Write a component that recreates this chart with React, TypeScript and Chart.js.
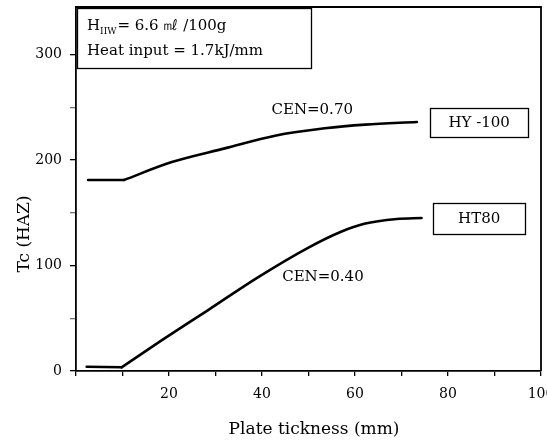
import React, { useEffect, useRef } from 'react';
import { Chart, registerables } from 'chart.js';

Chart.register(...registerables);

// ---- data ----
const hy100X = [2.6, 10.3, 20.6, 32.0, 42.8, 53.5, 62.2, 73.3];
const hy100Y = [181, 181, 198, 211, 223, 230, 233.5, 236];
const ht80X = [2.3, 9.8, 18.4, 28.5, 39.2, 50, 57, 62, 69, 74.3];
const ht80Y = [4, 3.5, 29, 58, 89, 117, 132, 139.5, 144, 145];
const xTickLabels = [20, 40, 60, 80, 100];
const yTickLabels = [0, 100, 200, 300];
const seriesNames = ['HY -100', 'HT80'];
const cenLabels = ['CEN=0.70', 'CEN=0.40'];
const xTitle = 'Plate tickness (mm)';
const yTitle = 'Tc (HAZ)';
const infoLine1Main = 'H';
const infoLine1Sub = 'IIW';
const infoLine1Rest = '= 6.6 ㎖ /100g';
const infoLine2 = 'Heat input = 1.7kJ/mm';

const FONT = '"DejaVu Serif", "Liberation Serif", serif';

// index of the sharp corner where the flat part ends and the curve starts
function kinkIndex(ys: number[]) {
  for (let i = 1; i < ys.length; i++) {
    if (Math.abs(ys[i] - ys[0]) > 2) return i - 1;
  }
  return 0;
}

function lineDatasets(name: string, xs: number[], ys: number[]) {
  const k = kinkIndex(ys);
  const pts = xs.map((x, i) => ({ x, y: ys[i] }));
  const base = {
    borderColor: '#000',
    borderWidth: 2.6,
    pointRadius: 0,
    fill: false,
    cubicInterpolationMode: 'monotone' as const,
    borderCapStyle: 'round' as const,
    borderJoinStyle: 'round' as const,
  };
  return [
    { ...base, label: name + ' flat', data: pts.slice(0, k + 1) },
    { ...base, label: name, data: pts.slice(k) },
  ];
}

const decorPlugin = {
  id: 'decor',
  afterDraw(chart: any) {
    const { ctx, chartArea: ca, scales } = chart;
    const xs = scales.x;
    const ys = scales.y;
    ctx.save();
    ctx.strokeStyle = '#000';
    ctx.fillStyle = '#000';

    // top & right frame
    ctx.lineWidth = 1.8;
    ctx.beginPath();
    ctx.moveTo(ca.left, ca.top);
    ctx.lineTo(ca.right, ca.top);
    ctx.lineTo(ca.right, ca.bottom);
    ctx.stroke();

    // info box
    ctx.lineWidth = 1.3;
    ctx.strokeRect(ca.left + 1.5, ca.top + 1.5, 234, 60);
    ctx.textAlign = 'left';
    ctx.textBaseline = 'alphabetic';
    ctx.font = `15px ${FONT}`;
    let tx = ca.left + 11;
    ctx.fillText(infoLine1Main, tx, ca.top + 23);
    tx += ctx.measureText(infoLine1Main).width;
    ctx.font = `9px ${FONT}`;
    ctx.fillText(infoLine1Sub, tx, ca.top + 27);
    tx += ctx.measureText(infoLine1Sub).width + 1;
    ctx.font = `15px ${FONT}`;
    ctx.fillText(infoLine1Rest, tx, ca.top + 23);
    ctx.fillText(infoLine2, ca.left + 11, ca.top + 48);

    // CEN labels
    ctx.textAlign = 'center';
    ctx.textBaseline = 'middle';
    ctx.font = `15px ${FONT}`;
    ctx.fillText(cenLabels[0], xs.getPixelForValue(50.8), ys.getPixelForValue(246.8));
    ctx.fillText(cenLabels[1], xs.getPixelForValue(53.1), ys.getPixelForValue(89.2));

    // series name boxes
    const boxes = [
      { name: seriesNames[0], x: 86.7, y: 236, w: 98, h: 29 },
      { name: seriesNames[1], x: 86.7, y: 144.8, w: 92, h: 31 },
    ];
    boxes.forEach((b) => {
      const cx = xs.getPixelForValue(b.x);
      const cy = ys.getPixelForValue(b.y);
      ctx.lineWidth = 1.3;
      ctx.strokeRect(Math.round(cx - b.w / 2) + 0.5, Math.round(cy - b.h / 2) + 0.5, b.w, b.h);
      ctx.font = `15px ${FONT}`;
      ctx.fillText(b.name, cx, cy + 1);
    });

    // axis titles
    ctx.font = `17px ${FONT}`;
    ctx.fillText(xTitle, 314, 430);
    ctx.save();
    ctx.translate(25, 234);
    ctx.rotate(-Math.PI / 2);
    ctx.fillText(yTitle, 0, 0);
    ctx.restore();

    ctx.restore();
  },
};

export default function App() {
  const ref = useRef<HTMLCanvasElement | null>(null);

  useEffect(() => {
    document.body.style.margin = '0';
    if (!ref.current) return;
    const chart = new Chart(ref.current, {
      type: 'line',
      data: {
        datasets: [
          ...lineDatasets(seriesNames[0], hy100X, hy100Y),
          ...lineDatasets(seriesNames[1], ht80X, ht80Y),
        ],
      },
      options: {
        animation: false,
        responsive: false,
        events: [],
        layout: { padding: { top: 7, right: 6, left: 0, bottom: 0 } },
        plugins: {
          legend: { display: false },
          tooltip: { enabled: false },
        },
        scales: {
          x: {
            type: 'linear',
            min: 0,
            max: 100,
            afterFit: (s: any) => {
              s.height = 75;
              s.paddingLeft = 0;
              s.paddingRight = 0;
            },
            ticks: {
              stepSize: 10,
              includeBounds: false,
              autoSkip: false,
              maxRotation: 0,
              padding: 10,
              color: '#000',
              font: { family: FONT, size: 14 },
              callback: (v: any) => (xTickLabels.includes(Number(v)) ? String(v) : ''),
            },
            grid: {
              display: true,
              drawOnChartArea: false,
              drawTicks: true,
              tickLength: 5,
              color: '#000',
              lineWidth: 1.3,
            },
            border: { display: true, color: '#000', width: 1.8 },
            title: { display: false },
          },
          y: {
            type: 'linear',
            min: 0,
            max: 345,
            afterFit: (s: any) => {
              s.width = 76;
              s.paddingTop = 0;
              s.paddingBottom = 0;
            },
            ticks: {
              stepSize: 50,
              includeBounds: false,
              autoSkip: false,
              padding: 8,
              color: '#000',
              font: { family: FONT, size: 14 },
              callback: (v: any) => (yTickLabels.includes(Number(v)) ? String(v) : ''),
            },
            grid: {
              display: true,
              drawOnChartArea: false,
              drawTicks: true,
              tickLength: 6,
              color: (c: any) =>
                c.tick && yTickLabels.includes(c.tick.value) ? '#000' : 'rgba(0,0,0,0.55)',
              lineWidth: 1.3,
            },
            border: { display: true, color: '#000', width: 1.8 },
            title: { display: false },
          },
        },
      } as any,
      plugins: [decorPlugin],
    });
    return () => chart.destroy();
  }, []);

  return (
    <div style={{ width: 547, height: 446, background: '#fff' }}>
      <canvas ref={ref} width={547} height={446} style={{ display: 'block' }} />
    </div>
  );
}
